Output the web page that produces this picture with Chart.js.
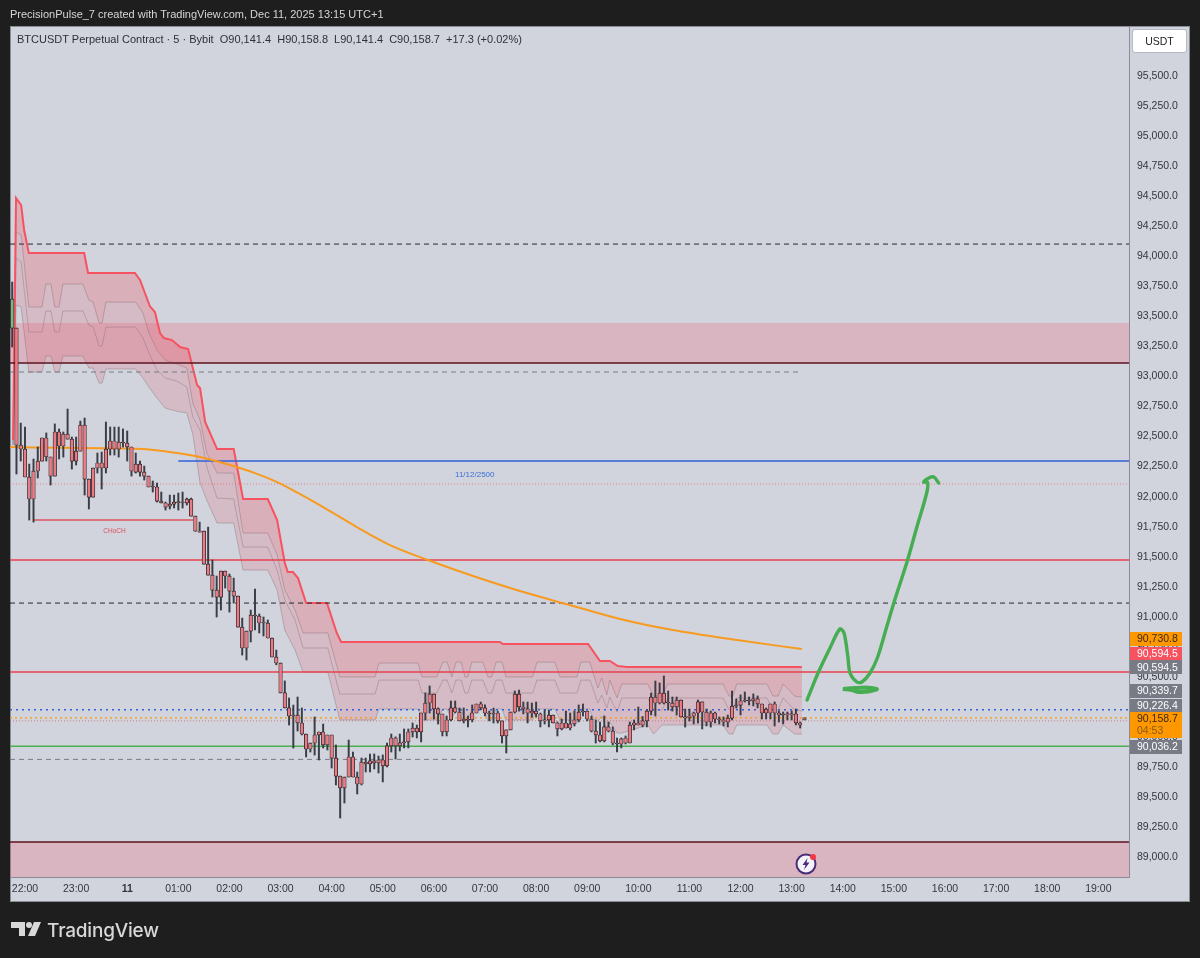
<!DOCTYPE html>
<html>
<head>
<meta charset="utf-8">
<title>BTCUSDT</title>
<script src="https://cdn.jsdelivr.net/npm/chart.js@4/dist/chart.umd.min.js"></script>
<style>
html, body { margin: 0; padding: 0; background: #1e1e1e; }
#wrap { position: relative; width: 1200px; height: 958px; overflow: hidden; }
canvas { position: absolute; left: 0; top: 0; }
.txt { position: absolute; white-space: pre; font-family: "Liberation Sans", sans-serif; }
#credit { left: 10px; top: 8px; font-size: 11px; color: #d6d6d6; }
#legend { left: 17px; top: 33px; font-size: 11px; color: #2e3038; }
#unit { left: 1133px; top: 30px; width: 53px; height: 22px; line-height: 22px; background: #fff; border-radius: 2px; text-align: center; font-size: 10.5px; color: #222; box-shadow: 0 0 0 1px #b8bbc4; }
#brand { left: 47px; top: 919px; font-family: Inter, sans-serif; font-size: 19px; font-weight: 500; color: #d8d8d8; letter-spacing: -0.2px; }
svg { position: absolute; }
</style>
</head>
<body>
<div id="wrap">
  <canvas id="chart" width="1200" height="958"></canvas>
  <div class="txt" id="credit">PrecisionPulse_7 created with TradingView.com, Dec 11, 2025 13:15 UTC+1</div>
  <div class="txt" id="legend">BTCUSDT Perpetual Contract · 5 · Bybit  O90,141.4  H90,158.8  L90,141.4  C90,158.7  +17.3 (+0.02%)</div>
  <div class="txt" id="unit">USDT</div>
  <svg style="left:11px;top:922px" width="30" height="16" viewBox="0 0 30 16">
    <path d="M0 0h14v14H8V6H0z" fill="#d8d8d8"/><circle cx="18" cy="3" r="3" fill="#d8d8d8"/><path d="M23 0h7l-6 14h-7z" fill="#d8d8d8"/>
  </svg>
  <div class="txt" id="brand">TradingView</div>
  <svg style="left:795px;top:852px" width="24" height="24" viewBox="0 0 24 24">
    <circle cx="11" cy="12" r="9.5" fill="#f5f2fa" stroke="#4a2d78" stroke-width="2"/>
    <path d="M12.5 6l-5 7h3l-1.5 5 5.5-7.5h-3z" fill="#4a2d78"/>
    <circle cx="18" cy="5" r="3" fill="#f23645"/>
  </svg>
</div>
<script>
// 5 minute candles, index 0 is 21:45
const openPrices = [
  93403,93403,92429,92396,92163,91980,92213,92296,92488,92330,
  92171,92538,92421,92521,92479,92296,92379,92596,92146,91996,
  92238,92280,92238,92396,92463,92396,92454,92446,92413,92204,
  92271,92204,92171,92080,92080,91963,91947,91921,91938,91955,
  91950,91947,91980,91838,91713,91713,91438,91347,91222,91164,
  91380,91339,91214,91172,90914,90740,90881,91014,91006,90948,
  90948,90823,90665,90615,90366,90241,90174,90182,90116,90024,
  89899,89949,90016,90041,89933,90016,89824,89674,89575,89666,
  89833,89666,89608,89791,89775,89800,89783,89808,89758,89925,
  89991,89925,89950,89958,90041,90074,90041,90199,90282,90357,
  90233,90191,90041,90141,90241,90207,90133,90149,90141,90199,
  90274,90241,90199,90191,90199,90133,90008,90058,90207,90357,
  90249,90233,90199,90215,90191,90133,90141,90182,90116,90066,
  90116,90074,90108,90141,90207,90215,90149,90049,90016,89966,
  90083,90049,89949,89941,89949,89949,90099,90116,90099,90133,
  90215,90332,90282,90365,90282,90282,90249,90307,90166,90158,
  90174,90199,90291,90207,90124,90199,90149,90141,90124,90157,
  90257,90265,90299,90307,90299,90316,90274,90199,90199,90274,
  90199,90182,90191,90183,90191,90116,90141.4
];
const highPrices = [
  93786,93403,92612,92579,92271,92313,92413,92488,92530,92330,
  92605,92563,92538,92729,92496,92496,92629,92654,92146,92238,
  92363,92371,92621,92579,92579,92579,92563,92546,92413,92363,
  92296,92254,92171,92130,92113,92038,91955,92013,92013,92030,
  92038,91988,91988,91838,91788,91713,91746,91472,91339,91380,
  91380,91356,91322,91172,90989,90881,91056,91231,91023,90998,
  90973,90823,90723,90615,90466,90324,90265,90332,90241,90024,
  89949,90166,90041,90107,90016,90016,89933,89674,89666,89974,
  89874,89708,89824,89824,89858,89858,89841,89850,89949,90024,
  90000,90024,90066,90066,90116,90099,90199,90366,90424,90357,
  90241,90191,90174,90299,90299,90241,90241,90174,90266,90274,
  90290,90266,90215,90240,90215,90133,90058,90207,90382,90390,
  90291,90290,90282,90290,90199,90224,90224,90182,90125,90149,
  90216,90199,90216,90266,90274,90215,90174,90141,90124,90174,
  90124,90083,89991,89991,90008,90124,90141,90249,90170,90224,
  90365,90465,90449,90507,90382,90332,90332,90307,90232,90232,
  90207,90307,90291,90232,90216,90207,90166,90166,90182,90382,
  90316,90350,90374,90332,90358,90341,90274,90241,90274,90291,
  90216,90207,90207,90216,90232,90124,90158.8
];
const lowPrices = [
  93245,92188,92296,92163,91805,91788,92155,92296,92296,92096,
  92171,92313,92329,92479,92229,92263,92379,92013,91897,91996,
  92196,92063,92196,92346,92346,92329,92413,92296,92171,92196,
  92171,92138,92080,92038,91955,91947,91888,91897,91905,91888,
  91905,91930,91838,91713,91705,91438,91347,91164,90998,91056,
  91239,91039,91114,90914,90681,90640,90790,90890,90865,90840,
  90823,90665,90600,90366,90241,90099,89907,90049,90016,89833,
  89874,89849,89808,89907,89891,89741,89600,89325,89450,89666,
  89666,89525,89600,89708,89708,89733,89700,89625,89750,89874,
  89816,89883,89908,89908,89999,89991,89958,90141,90199,90149,
  90107,90008,90008,90133,90199,90133,90116,90083,90125,90199,
  90224,90174,90133,90116,90116,89949,89866,90058,90199,90215,
  90191,90116,90163,90166,90083,90107,90083,90116,90008,90058,
  90074,90058,90091,90125,90174,90133,90041,89949,89958,89958,
  90041,89933,89875,89908,89941,89949,90058,90099,90083,90083,
  90183,90174,90274,90274,90224,90215,90182,90166,90082,90132,
  90108,90116,90066,90091,90082,90116,90108,90091,90083,90141,
  90240,90183,90290,90266,90258,90241,90149,90149,90149,90091,
  90124,90108,90141,90141,90099,90074,90141.4
];
const closePrices = [
  93644,92429,92396,92163,91980,92213,92296,92488,92330,92171,
  92538,92421,92521,92479,92296,92379,92596,92146,91996,92238,
  92280,92238,92396,92463,92396,92454,92446,92413,92213,92271,
  92204,92171,92080,92088,91963,91947,91913,91938,91955,91950,
  91947,91980,91838,91713,91705,91438,91347,91222,91164,91380,
  91339,91214,91172,90914,90740,90881,91014,91006,90948,90948,
  90823,90665,90615,90366,90241,90174,90182,90116,90024,89899,
  89949,90016,90041,89933,90016,89824,89674,89575,89666,89833,
  89666,89608,89791,89775,89800,89783,89808,89758,89925,89991,
  89925,89950,89958,90041,90074,90041,90199,90282,90357,90233,
  90191,90041,90141,90241,90207,90133,90149,90141,90199,90274,
  90241,90199,90191,90199,90133,90008,90058,90207,90357,90249,
  90233,90199,90215,90191,90133,90141,90182,90116,90066,90116,
  90074,90108,90141,90207,90215,90149,90049,90016,89966,90083,
  90049,89949,89941,89983,89991,90099,90116,90099,90133,90215,
  90332,90282,90365,90282,90290,90249,90307,90166,90158,90174,
  90199,90291,90207,90124,90199,90149,90141,90124,90157,90257,
  90265,90299,90307,90299,90316,90274,90199,90232,90274,90199,
  90182,90191,90183,90191,90116,90099,90158.7
];

// resistance cloud, x in candle index
const cloudTopTimes = [0.2,0.9,2.1,2.8,3.9,16.9,17.8,28.8,30,31.6,32.3,33.5,34.7,35.6,37.5,39.4,41.3,43.4,44.1,45.3,48.1,52,54.2,60,62.2,64,64.7,65.9,67.1,69,73.9,76.2,77.2,114.5,115.2,135.2,138,140.3,142.2,144.3,185.4];
const cloudTopPrices = [92471,94485,94427,94219,94027,94027,93861,93861,93803,93653,93586,93536,93361,93320,93303,93245,93228,92929,92904,92621,92396,92396,91980,91980,91805,91447,91372,91372,91322,91114,91114,90865,90790,90790,90773,90773,90632,90632,90590,90582,90582];
const cloudTimes = [0.2,0.9,2.1,3.9,7,7.9,9.1,10,11,11.9,16.6,18,19,20.4,21.1,22,29,30.7,32.1,34,35.9,38.7,41,42.4,44.1,45.7,48.1,52,54.2,60,62.2,64,66.4,68.3,74.1,76.9,85.2,86.1,95.3,96.2,99.7,101.1,102.1,103.2,104.2,105.4,106.3,107,107.9,110.5,111.7,112.6,113.6,115,115.9,122.2,123.2,127.4,128.6,132.6,133.5,135.6,136.3,137.5,138.4,139.6,140.3,142,143.1,149.2,150.6,152.6,153.9,166.9,168.3,169.2,170.1,177.2,178.6,179.8,181,183.7,185.4];
const cloudUpperPrices = [92429,94202,94177,93578,93578,93769,93769,93578,93578,93769,93769,93636,93619,93445,93445,93619,93619,93528,93361,93220,93137,93103,93070,92779,92637,92363,92196,92196,91697,91697,91514,91222,91056,90865,90865,90499,90499,90615,90615,90499,90499,90623,90623,90499,90623,90623,90499,90499,90623,90623,90499,90499,90623,90623,90499,90499,90623,90623,90499,90499,90623,90623,90540,90407,90490,90349,90473,90324,90440,90440,90340,90340,90440,90440,90340,90340,90440,90440,90340,90340,90440,90340,90332];
const cloudMiddlePrices = [92429,93986,93952,93370,93370,93545,93545,93370,93370,93545,93545,93428,93411,93253,93253,93411,93411,93320,93195,93053,92987,92962,92912,92662,92554,92246,91988,91980,91580,91580,91389,91139,90973,90740,90740,90357,90357,90473,90473,90365,90365,90473,90473,90365,90473,90473,90365,90365,90473,90473,90365,90365,90473,90473,90365,90365,90473,90473,90365,90365,90473,90473,90407,90282,90349,90241,90332,90207,90324,90324,90224,90224,90324,90324,90224,90224,90324,90324,90224,90224,90324,90224,90216];
const cloudLowerPrices = [92429,93595,93578,93037,93037,93170,93170,93037,93037,93170,93170,93070,93070,92945,92945,93062,93062,92987,92912,92820,92737,92710,92696,92520,92113,91970,91780,91780,91389,91389,91222,90889,90723,90540,90540,90141,90141,90232,90232,90141,90141,90232,90232,90141,90232,90232,90141,90141,90232,90232,90141,90141,90232,90232,90141,90141,90232,90232,90141,90141,90232,90232,90157,90124,90174,90057,90124,90032,90032,90099,90024,90099,90099,90099,90024,90024,90099,90099,90024,90024,90099,90024,90024];

const emaTimes = [-0.5,16.6,30.7,38.7,44.1,51.1,57,62.2,67.6,73,80.9,88.7,97.6,107.5,119.2,130.9,142.7,155.1,170.2,185.4];
const emaPrices = [92413,92404,92396,92363,92329,92263,92196,92121,92021,91913,91747,91597,91472,91347,91214,91098,90981,90889,90806,90731];

// hand drawn forecast
const arrowTimes = [186.6,189.2,192,194.3,195.3,196.2,196.7,198.3,199.5,201.4,203.2,205.3,207.2,210,212.4,214.7,214.9,214,215.2,216.4,217.5];
const arrowPrices = [90307,90532,90740,90898,90865,90665,90532,90457,90457,90532,90665,90914,91139,91447,91747,92030,92121,92121,92155,92163,92113];
const scribbleTimes = [195,197.1,199,201.9,203,200.9,197.8,195.4];
const scribblePrices = [90398,90390,90373,90385,90398,90410,90407,90400];

// levels
const dashedHigh = 94102, dashedMid = 93037, dashedLow = 91114, dashedBottom = 89813;
const zoneTop = [93445, 93112];
const zoneBottom = [89125, 88834];
const blueLevel = 92296, dottedRed = 92105, swingLow = 91805;
const redLevels = [91472, 90540];
const blueDotted = 90226.4, orangeDotted = 90158.7, redDotted = 90134, greenLevel = 89922;
const timeLabels = ['22:00','23:00','11','01:00','02:00','03:00','04:00','05:00','06:00','07:00','08:00','09:00','10:00','11:00','12:00','13:00','14:00','15:00','16:00','17:00','18:00','19:00'];
const priceTicks = [95500,95250,95000,94750,94500,94250,94000,93750,93500,93250,93000,92750,92500,92250,92000,91750,91500,91250,91000,90750,90500,90250,90000,89750,89500,89250,89000];
const tagPrices = [90815,90694,90578,90386,90261,90099,89920];
const tagTexts = ['90,730.8','90,594.5','90,594.5','90,339.7','90,226.4','90,158.7','90,036.2'];

const xMin = -0.52, xMax = 262.2, yMin = 88834, yMax = 95917;
const fontName = '"Liberation Sans", sans-serif';

function pts(xs, ys) { return xs.map((x, i) => ({ x: x, y: ys[i] })); }
function level(y, from, to, color, width, dash, order) {
  return { type: 'line', data: [{ x: from, y: y }, { x: to, y: y }], borderColor: color, borderWidth: width, borderDash: dash || [], pointRadius: 0, order: order || 6 };
}
function zone(z) {
  return { type: 'line', data: [{ x: xMin, y: z[0] }, { x: xMax, y: z[0] }], borderWidth: 0, pointRadius: 0, backgroundColor: 'rgba(245,60,80,0.2)', fill: { target: { value: z[1] } }, order: 12 };
}
function cloudLine(xs, ys, color, width, fillTo, fillColor) {
  const ds = { type: 'line', data: pts(xs, ys), borderColor: color, borderWidth: width, pointRadius: 0, tension: 0, order: 8 };
  if (fillTo !== undefined) { ds.fill = { target: fillTo }; ds.backgroundColor = fillColor; }
  return ds;
}

const datasets = [
  // 0-3 cloud, the fills refer to these positions
  cloudLine(cloudTopTimes, cloudTopPrices, '#f7525f', 2, 1, 'rgba(242,60,75,0.24)'),
  cloudLine(cloudTimes, cloudUpperPrices, 'rgba(125,115,125,0.42)', 1, 3, 'rgba(225,90,105,0.2)'),
  cloudLine(cloudTimes, cloudMiddlePrices, 'rgba(125,115,125,0.42)', 1),
  cloudLine(cloudTimes, cloudLowerPrices, 'rgba(125,115,125,0.42)', 1),
  zone(zoneTop),
  zone(zoneBottom),
  level(zoneTop[1], xMin, xMax, '#5c1420', 1.5),
  level(zoneBottom[0], xMin, xMax, '#5c1420', 1.5),
  level(dashedHigh, xMin, xMax, '#26282f', 1, [5, 4]),
  level(dashedMid, xMin, 185.4, '#787b86', 1, [5, 4]),
  level(dashedLow, xMin, xMax, '#26282f', 1, [5, 4]),
  level(dashedBottom, xMin, 185.4, '#787b86', 1, [5, 4]),
  level(blueLevel, 39, xMax, '#2f62d8', 1.5),
  level(dottedRed, xMin, xMax, 'rgba(230,110,120,0.8)', 1, [1, 2]),
  level(swingLow, 5, 42.5, '#e0505f', 1.5),
  level(redLevels[0], xMin, xMax, '#e8404f', 1.5),
  level(redLevels[1], xMin, xMax, '#e8404f', 1.5),
  level(blueDotted, xMin, xMax, '#2f62d8', 1.5, [2, 4]),
  level(orangeDotted, xMin, xMax, '#ff9800', 1.2, [2, 3]),
  level(redDotted, xMin, xMax, 'rgba(200,90,100,0.7)', 1, [1, 2]),
  level(greenLevel, xMin, xMax, '#4caf50', 1.5),
  { type: 'line', data: pts(emaTimes, emaPrices), borderColor: '#f79a1f', borderWidth: 2, pointRadius: 0, cubicInterpolationMode: 'monotone', order: 4 },
  { type: 'bar', grouped: false, barPercentage: 1, categoryPercentage: 1, maxBarThickness: 1.3, data: highPrices.map((h, i) => ({ x: i, y: [lowPrices[i], h] })), backgroundColor: '#3a3d45', order: 3 },
  { type: 'bar', grouped: false, barPercentage: 1, categoryPercentage: 1, maxBarThickness: 3.5, minBarLength: 1, data: openPrices.map((o, i) => ({ x: i, y: [Math.min(o, closePrices[i]), Math.max(o, closePrices[i])] })),
    backgroundColor: ctx => ctx.dataIndex === 0 ? '#7fb37f' : '#e77c85', borderColor: '#14151a', borderWidth: 0.7, borderSkipped: false, order: 2 },
  { type: 'line', data: pts(arrowTimes, arrowPrices), borderColor: '#46ad52', borderWidth: 3.4, pointRadius: 0, tension: 0.3, borderCapStyle: 'round', borderJoinStyle: 'round', order: 1, clip: false },
  { type: 'line', data: pts(scribbleTimes, scribblePrices), borderColor: '#46ad52', borderWidth: 4, pointRadius: 0, tension: 0.3, order: 1 }
];

const panelPlugin = {
  id: 'panel',
  beforeDraw(chart) {
    const c = chart.ctx;
    c.save();
    c.fillStyle = '#1e1e1e';
    c.fillRect(0, 0, 1200, 958);
    c.fillStyle = '#d1d4dc';
    c.fillRect(10, 26, 1180, 876);
    c.strokeStyle = '#8a8d95';
    c.strokeRect(10.5, 26.5, 1179, 875);
    c.restore();
  },
  afterDraw(chart) {
    const c = chart.ctx, y = chart.scales.y, x = chart.scales.x;
    c.save();
    c.textBaseline = 'middle';
    // labels on the chart
    c.textAlign = 'center';
    c.font = '8px ' + fontName;
    c.fillStyle = '#3a6fd8';
    c.fillText('11/12/2500', x.getPixelForValue(108.6), y.getPixelForValue(92185));
    c.font = '6.5px ' + fontName;
    c.fillStyle = '#e0505f';
    c.fillText('CHoCH', x.getPixelForValue(24), y.getPixelForValue(91715));
    // price tags on the axis
    c.textAlign = 'left';
    c.font = '10.5px ' + fontName;
    const fills = ['#ff9800', '#f7525f', '#787b86', '#787b86', '#787b86', '#ff9800', '#787b86'];
    const inks = ['#3a2a10', '#ffffff', '#ffffff', '#ffffff', '#ffffff', '#3a2a10', '#ffffff'];
    tagPrices.forEach((p, i) => {
      const py = y.getPixelForValue(p);
      const h = i === 5 ? 26 : 14;
      c.fillStyle = fills[i];
      c.fillRect(1130, Math.round(py - h / 2), 52, h);
      c.fillStyle = inks[i];
      if (i === 5) {
        c.fillText(tagTexts[i], 1137, py - 6);
        c.fillStyle = '#8a5a10';
        c.fillText('04:53', 1137, py + 6);
      } else {
        c.fillText(tagTexts[i], 1137, py + 0.5);
      }
    });
    c.restore();
  }
};

new Chart(document.getElementById('chart'), {
  type: 'bar',
  data: { datasets: datasets },
  plugins: [panelPlugin],
  options: {
    responsive: false,
    animation: false,
    devicePixelRatio: 1,
    layout: { padding: { left: 10, top: 26, right: 10, bottom: 56 } },
    plugins: { legend: { display: false }, title: { display: false }, tooltip: { enabled: false } },
    scales: {
      x: {
        type: 'linear', min: xMin, max: xMax, offset: false,
        grid: { display: false, drawTicks: false }, border: { display: true, color: '#8a8d95' },
        afterBuildTicks(axis) { axis.ticks = timeLabels.map((_, i) => ({ value: 3 + i * 12 })); },
        afterFit(axis) { axis.height = 25; },
        ticks: {
          autoSkip: false, maxRotation: 0, padding: 6, color: '#33363f',
          font: ctx => ({ family: fontName, size: 10.5, weight: ctx.index === 2 ? 'bold' : 'normal' }),
          callback: (v, i) => timeLabels[i]
        }
      },
      y: {
        type: 'linear', position: 'right', min: yMin, max: yMax,
        grid: { display: false, drawTicks: false }, border: { display: true, color: '#8a8d95' },
        afterBuildTicks(axis) { axis.ticks = priceTicks.map(v => ({ value: v })); },
        afterFit(axis) { axis.width = 61; },
        ticks: {
          autoSkip: false, padding: 8, color: '#33363f', font: { family: fontName, size: 10.5 },
          callback: v => v.toLocaleString('en-US', { minimumFractionDigits: 1 })
        }
      }
    }
  }
});
</script>
</body>
</html>
